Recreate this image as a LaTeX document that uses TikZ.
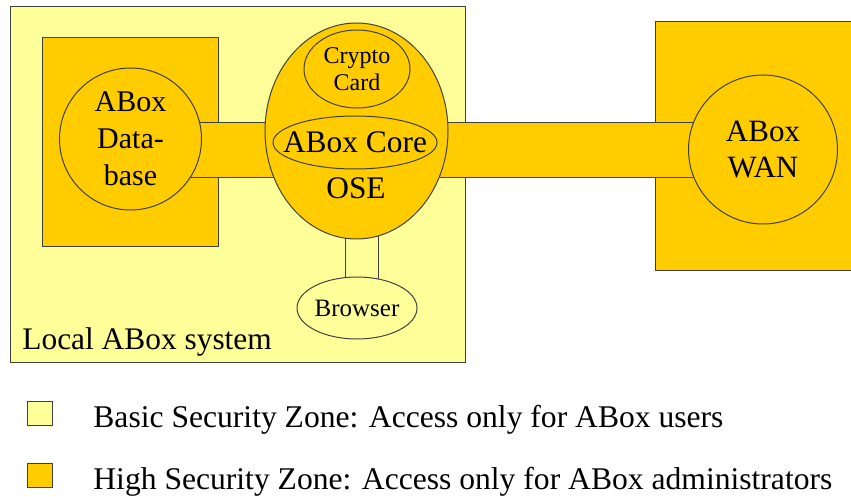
\documentclass[tikz,border=0pt]{standalone}
\usepackage{fontspec}
\setmainfont{Liberation Serif}
\usetikzlibrary{calc, shapes.geometric, backgrounds}

\definecolor{basiczone}{HTML}{FFFF99}
\definecolor{highzone}{HTML}{FFCC00}

\tikzset{
	zone/.style = {draw = black!75, line width = 0.5pt},
	unit/.style = {zone, fill = highzone, ellipse, inner sep = 0pt, align = center},
	bigtext/.style = {font = \fontsize{15.7}{18.5}\selectfont},
	keytext/.style = {font = \fontsize{15.8}{18}\selectfont, anchor = base west, inner sep = 0pt},
}

\begin{document}
\begin{tikzpicture}[x = 0.5pt, y = -0.5pt]
	\def\barhalf{27.5};
	\def\barmid{150.5};
	
	\useasboundingbox (0,0) rectangle (851,497);
	
	% units
	\node [unit, minimum width = 71pt, minimum height = 71pt, font = \fontsize{15}{18.5}\selectfont] (db) at (130.5,139) {ABox\\Data-\\base};
	\node [unit, minimum width = 91.5pt, minimum height = 108pt] (ose) at (356.5,131) {};
	\node [unit, minimum width = 53pt, minimum height = 39pt, font = \fontsize{12}{13.5}\selectfont] (crypto) at (357,69) {Crypto\\Card};
	\node [unit, minimum width = 82pt, minimum height = 26.5pt] (core) at (355,142.5) {};
	\node [bigtext] (coretext) at (core.center) {ABox Core};
	\node [bigtext] (osetext) at (356,188) {OSE};
	\node [unit, minimum width = 74.5pt, minimum height = 74.5pt, font = \fontsize{15.5}{18}\selectfont] (wan) at (763,149.5) {ABox\\WAN};
	\node [unit, fill = basiczone, minimum width = 60pt, minimum height = 31pt, font = \fontsize{12.5}{14}\selectfont] (browser) at (357,308) {Browser};
	
	% zones and links behind the units
	\begin{pgfonlayer}{background}
		\fill [white] (0,0) rectangle (851,497);
		\filldraw [zone, fill = basiczone] (10,7) rectangle (465,362);
		\filldraw [zone, fill = highzone] (42,38) rectangle (218,247);
		\filldraw [zone, fill = highzone] (655,22) rectangle (860,271);
		
		\filldraw [zone, fill = highzone] ($(db.center |- 0,\barmid) + (0,-\barhalf)$) rectangle ($(ose.center |- 0,\barmid) + (0,\barhalf)$);
		\filldraw [zone, fill = highzone] ($(ose.center |- 0,\barmid) + (0,-\barhalf)$) rectangle ($(wan.center |- 0,\barmid) + (0,\barhalf)$);
		\filldraw [zone, fill = basiczone] ($(ose.center) + (-11.5,0)$) rectangle ($(browser.center) + (21.5,0)$);
	\end{pgfonlayer}
	
	\node [bigtext, anchor = base west, inner sep = 0pt] (local) at (22,349) {Local ABox system};
	
	% legend
	\node [zone, fill = basiczone, minimum width = 12.5pt, minimum height = 12pt, inner sep = 0pt] (keybasic) at (39.5,413) {};
	\node [zone, fill = highzone, minimum width = 12.5pt, minimum height = 12pt, inner sep = 0pt] (keyhigh) at (39.5,475.5) {};
	\node [keytext] (txtbasic) at (93,427) {Basic Security Zone: Access only for ABox users};
	\node [keytext] (txthigh) at (93,489) {High Security Zone: Access only for ABox administrators};
\end{tikzpicture}
\end{document}
